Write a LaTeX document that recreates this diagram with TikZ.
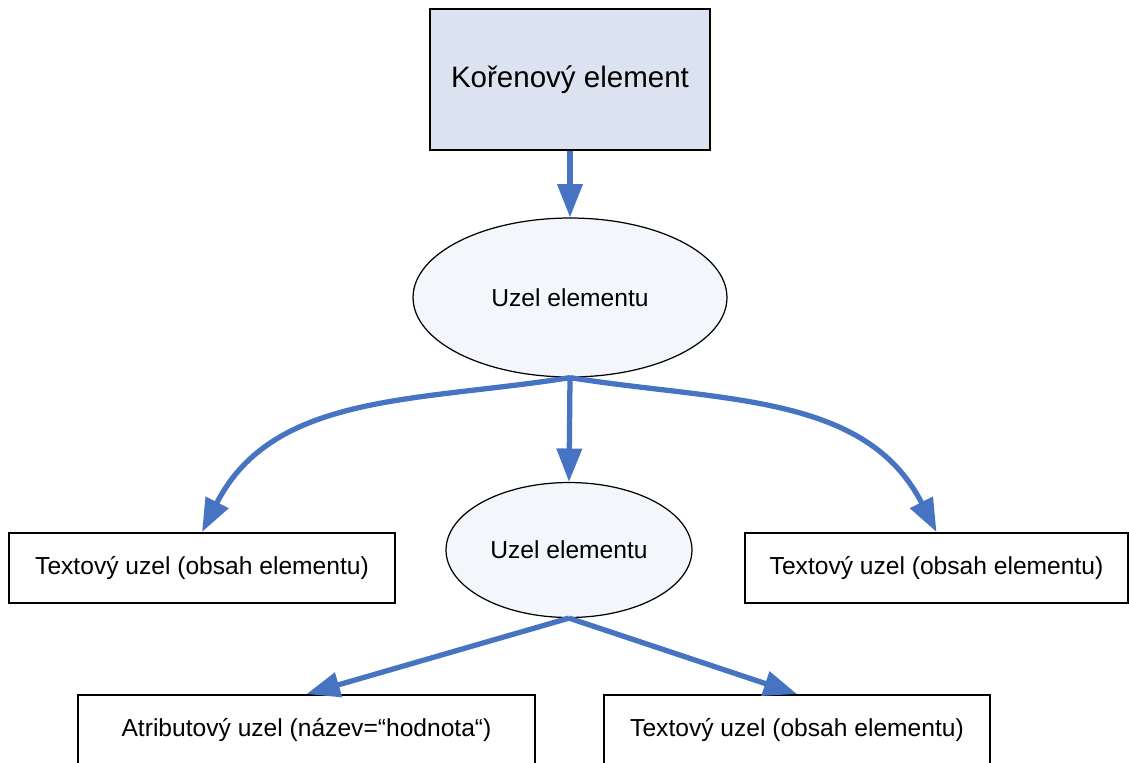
\documentclass[tikz,border=0pt]{standalone}
\usepackage{fontspec}
\setmainfont{Liberation Sans}
\usepackage{xcolor}
\usetikzlibrary{arrows.meta,shapes.geometric}
\definecolor{rootfill}{HTML}{DCE3F0}
\definecolor{uzelfill}{HTML}{F3F6FB}
\definecolor{linkblue}{HTML}{4774C2}

\begin{document}
\begin{tikzpicture}[x=0.02cm,y=0.02cm,
    box/.style={draw, line width=1.1pt, minimum height=1.4cm, inner sep=0pt,
        font=\fontsize{14}{17}\selectfont},
    uzel/.style={ellipse, draw, line width=0.7pt, fill=uzelfill, inner sep=0pt,
        font=\fontsize{14}{17}\selectfont},
    link/.style={-{Triangle[width=14pt,length=19pt]}, line width=3pt, linkblue}]

    % Frame of the picture
    \useasboundingbox (0,0) rectangle (1129,-762);
    \clip (0,0) rectangle (1129,-762);

    % Draw root element
    \node[box, fill=rootfill, minimum width=5.6cm, minimum height=2.82cm,
        font=\fontsize{16.8}{20}\selectfont] (root) at (570,-79.5) {Kořenový element};

    % Draw element nodes
    \node[uzel, minimum width=6.28cm, minimum height=3.18cm] (uzelA) at (570,-297.5) {Uzel elementu};
    \node[uzel, minimum width=4.92cm, minimum height=2.7cm] (uzelB) at (569,-550) {Uzel elementu};

    % Draw text nodes
    \node[box, minimum width=7.72cm] (textL) at (202,-568) {Textový uzel (obsah elementu)};
    \node[box, minimum width=7.66cm] (textR) at (936.5,-568) {Textový uzel (obsah elementu)};
    \node[box, minimum width=7.72cm] (textB) at (797,-730) {Textový uzel (obsah elementu)};

    % Draw attribute node
    \node[box, minimum width=9.14cm] (attr) at (306.5,-730) {Atributový uzel (název=“hodnota“)};

    % Draw links
    \draw[link] (root.south) -- (uzelA.north);
    \draw[link] (uzelA.south) -- (uzelB.north);
    \draw[link] (uzelA.south) to[out=189, in=63] (textL.north);
    \draw[link] (uzelA.south) to[out=-9, in=117] (textR.north);
    \draw[link] (uzelB.south) -- (attr.north);
    \draw[link] (uzelB.south) -- (textB.north);

\end{tikzpicture}
\end{document}
